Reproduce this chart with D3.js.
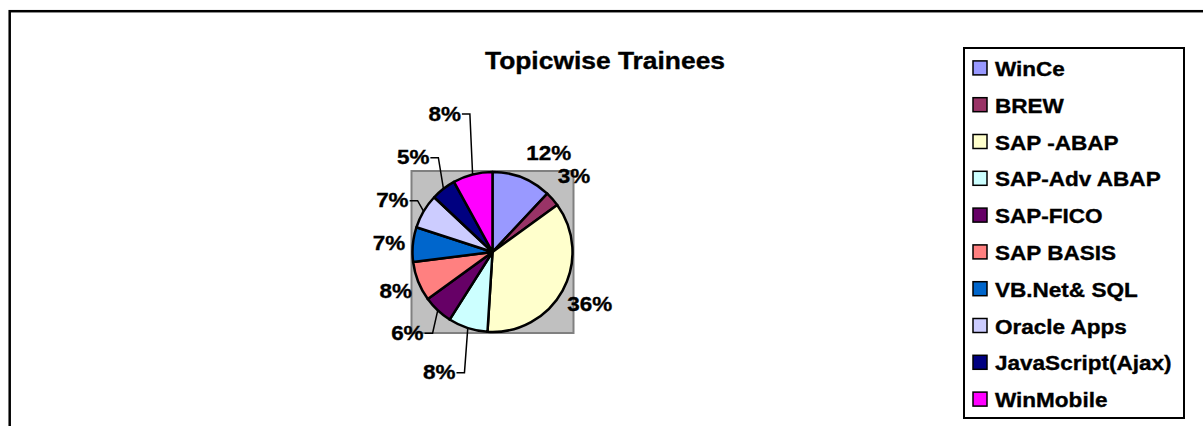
<!DOCTYPE html>
<html>
<head>
<meta charset="utf-8">
<script src="https://cdn.jsdelivr.net/npm/d3@7"></script>
<style>
  body { margin: 0; background: #fff; }
  text { font-family: "Liberation Sans", Arial, sans-serif; font-weight: bold; fill: #000;
         stroke: #000; stroke-width: 0.35px; }
</style>
</head>
<body>
<div id="my_dataviz"></div>
<script>

// chart data
var topics = ["WinCe", "BREW", "SAP -ABAP", "SAP-Adv ABAP", "SAP-FICO", "SAP BASIS",
              "VB.Net& SQL", "Oracle Apps", "JavaScript(Ajax)", "WinMobile"];
var shares = [12, 3, 36, 8, 6, 8, 7, 7, 5, 8];
var colors = ["#9999FF", "#993366", "#FFFFCC", "#CCFFFF", "#660066", "#FF8080",
              "#0066CC", "#CCCCFF", "#000080", "#FF00FF"];
var chartTitle = "Topicwise Trainees";

// dimensions
var width = 1203,
    height = 426;

var cx = 492.5, cy = 252, radius = 80;

// labels that were dragged away from the pie (extra radius, extra angle in deg)
var labelNudge = {
  "WinCe":            {dr: 10, da: 8,   leader: false},
  "BREW":             {dr: 8,  da: -2,  leader: false},
  "SAP -ABAP":        {dr: 6,  da: -1,  leader: false},
  "SAP-Adv ABAP":     {dr: 27, da: 6,   leader: true},
  "SAP-FICO":         {dr: 13, da: 3.5, leader: true},
  "SAP BASIS":        {dr: 0,  da: 0,   leader: false},
  "VB.Net& SQL":      {dr: 0,  da: 0,   leader: false},
  "Oracle Apps":      {dr: 9,  da: -3,  leader: true},
  "JavaScript(Ajax)": {dr: 20, da: -2,  leader: true},
  "WinMobile":        {dr: 43, da: -4.6,leader: true}
};

var svg = d3.select("#my_dataviz")
  .append("svg")
    .attr("width", width)
    .attr("height", height);

// outer chart border (runs off the right and bottom edge)
svg.append("rect")
    .attr("x", 9.7)
    .attr("y", 11.2)
    .attr("width", width + 20)
    .attr("height", height + 20)
    .attr("fill", "#fff")
    .attr("stroke", "#000")
    .attr("stroke-width", 2.5);

// title
svg.append("text")
    .attr("transform", "translate(605,69) scale(1.1,1)")
    .attr("text-anchor", "middle")
    .style("font-size", "24px")
    .text(chartTitle);

// grey plot area behind the pie
svg.append("rect")
    .attr("x", cx - radius - 1)
    .attr("y", cy - radius - 1)
    .attr("width", 2 * radius + 2)
    .attr("height", 2 * radius + 2)
    .attr("fill", "#C0C0C0")
    .attr("stroke", "#808080")
    .attr("stroke-width", 2);

var color = d3.scaleOrdinal()
    .domain(topics)
    .range(colors);

var pieData = topics.map(function(t, i) { return {name: t, value: shares[i]}; });
var total = d3.sum(shares);

var pie = d3.pie()
    .sort(null)
    .value(function(d) { return d.value; });

var arc = d3.arc()
    .innerRadius(0)
    .outerRadius(radius);

var arcs = pie(pieData);

var g = svg.append("g")
    .attr("transform", "translate(" + cx + "," + cy + ")");

g.selectAll("path")
  .data(arcs)
  .enter().append("path")
    .attr("d", arc)
    .attr("fill", function(d) { return color(d.data.name); })
    .attr("stroke", "#000")
    .attr("stroke-width", 2.5)
    .attr("stroke-linejoin", "round");

// percent labels
var labelScale = 1.07;
var labels = g.selectAll(".pct")
  .data(arcs)
  .enter().append("text")
    .attr("class", "pct")
    .attr("text-anchor", "middle")
    .style("font-size", "21px")
    .text(function(d) { return Math.round(d.data.value / total * 100) + "%"; })
    .each(function(d) {
      var n = labelNudge[d.data.name];
      var mid = (d.startAngle + d.endAngle) / 2;
      var a = mid + n.da * Math.PI / 180;
      var r = radius + 24 + n.dr;
      d.lx = r * Math.sin(a);
      d.ly = -r * Math.cos(a);
      d.px = radius * Math.sin(mid);
      d.py = -radius * Math.cos(mid);
      d.w = this.getComputedTextLength() * labelScale;
    })
    .attr("transform", function(d) {
      return "translate(" + d.lx + "," + (d.ly + 7.5) + ") scale(" + labelScale + ",1)";
    });

// leader lines for dragged labels
var line = d3.line();
g.selectAll(".leader")
  .data(arcs.filter(function(d) { return labelNudge[d.data.name].leader; }))
  .enter().append("path")
    .attr("class", "leader")
    .attr("fill", "none")
    .attr("stroke", "#000")
    .attr("stroke-width", 1.5)
    .attr("d", function(d) {
      var side = d.px < d.lx ? -1 : 1;
      var x0 = d.lx + side * (d.w / 2 + 1);
      var y0 = d.ly + 1;
      return line([[x0, y0], [x0 + side * 8, y0], [d.px, d.py]]);
    });

// legend
var legendX = 964, legendY = 48, legendW = 220, legendH = 370;

svg.append("rect")
    .attr("x", legendX)
    .attr("y", legendY)
    .attr("width", legendW)
    .attr("height", legendH)
    .attr("fill", "#fff")
    .attr("stroke", "#000")
    .attr("stroke-width", 2);

var ly = d3.scaleBand()
    .domain(topics)
    .range([legendY + 2, legendY + legendH]);

var item = svg.selectAll(".legend")
  .data(topics)
  .enter().append("g")
    .attr("class", "legend")
    .attr("transform", function(d) { return "translate(0," + (ly(d) + ly.bandwidth() / 2) + ")"; });

item.append("rect")
    .attr("x", 973)
    .attr("y", -7.5)
    .attr("width", 14)
    .attr("height", 14)
    .attr("fill", function(d) { return color(d); })
    .attr("stroke", "#000")
    .attr("stroke-width", 1.5);

item.append("text")
    .attr("transform", "translate(995,7.5) scale(1.1,1)")
    .style("font-size", "20.5px")
    .text(function(d) { return d; });

</script>
</body>
</html>
